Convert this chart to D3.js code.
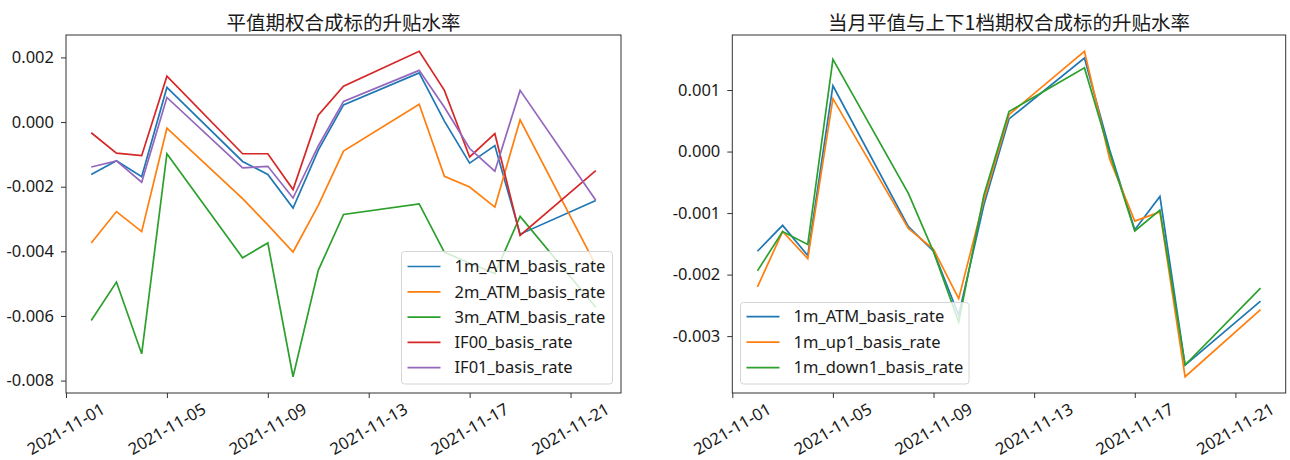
<!DOCTYPE html>
<html>
<head>
<meta charset="utf-8">
<script src="https://cdn.jsdelivr.net/npm/d3@7"></script>
<style>
  html, body { margin: 0; padding: 0; background: #fff; }
  svg { display: block; }
  text { font-family: "Noto Sans", "Noto Sans CJK SC", sans-serif; fill: #1a1a1a; }
</style>
</head>
<body>
<svg id="chart" width="1290" height="460"></svg>
<script>
// ---------------- data ----------------
const dates = ["2021-11-02","2021-11-03","2021-11-04","2021-11-05","2021-11-08","2021-11-09","2021-11-10",
               "2021-11-11","2021-11-12","2021-11-15","2021-11-16","2021-11-17","2021-11-18","2021-11-19","2021-11-22"];

const m1_ATM   = [-0.00162,-0.00120,-0.00169, 0.00107,-0.00122,-0.00162,-0.00266,-0.00087, 0.00053, 0.00152, 0.00003,-0.00127,-0.00073,-0.00347,-0.00243];
const m2_ATM   = [-0.00374,-0.00277,-0.00339,-0.00019,-0.00237,-0.00318,-0.00402,-0.00258,-0.00090, 0.00055,-0.00168,-0.00201,-0.00263, 0.00007,-0.00443];
const m3_ATM   = [-0.00614,-0.00495,-0.00717,-0.00098,-0.00420,-0.00374,-0.00788,-0.00459,-0.00286,-0.00253,-0.00403,-0.00436,-0.00469,-0.00292,-0.00573];
const IF00     = [-0.00033,-0.00096,-0.00104, 0.00142,-0.00098,-0.00098,-0.00209, 0.00021, 0.00111, 0.00219, 0.00098,-0.00108,-0.00036,-0.00351,-0.00150];
const IF01     = [-0.00139,-0.00120,-0.00186, 0.00076,-0.00142,-0.00137,-0.00235,-0.00074, 0.00064, 0.00160, 0.00046,-0.00082,-0.00152, 0.00098,-0.00242];
const m1_up1   = [-0.00220,-0.00130,-0.00174, 0.00086,-0.00125,-0.00159,-0.00239,-0.00079, 0.00060, 0.00163,-0.00012,-0.00113,-0.00098,-0.00366,-0.00257];
const m1_down1 = [-0.00194,-0.00130,-0.00151, 0.00150,-0.00068,-0.00163,-0.00277,-0.00071, 0.00065, 0.00136,-0.00002,-0.00129,-0.00095,-0.00347,-0.00222];

const leftNames  = ["1m_ATM_basis_rate","2m_ATM_basis_rate","3m_ATM_basis_rate","IF00_basis_rate","IF01_basis_rate"];
const rightNames = ["1m_ATM_basis_rate","1m_up1_basis_rate","1m_down1_basis_rate"];
const colors = ["#1f77b4","#ff7f0e","#2ca02c","#d62728","#9467bd"];

const xTickLabels = ["2021-11-01","2021-11-05","2021-11-09","2021-11-13","2021-11-17","2021-11-21"];
const xDomainLabels = ["2021-11-01","2021-11-23"];
const leftYTicks  = [-0.008,-0.006,-0.004,-0.002,0.000,0.002];
const rightYTicks = [-0.003,-0.002,-0.001,0.000,0.001];

const leftTitle  = "平值期权合成标的升贴水率";
const rightTitle = "当月平值与上下1档期权合成标的升贴水率";

// ---------------- drawing ----------------
const parse = d3.timeParse("%Y-%m-%d");
const svg = d3.select("#chart");
const FS = 16.5;

function panel(box, seriesList, names, yTicks, title, legendBox) {
  const g = svg.append("g");
  const x = d3.scaleTime().domain(xDomainLabels.map(parse)).range([box.x0, box.x1]);
  const all = seriesList.flat();
  const mn = d3.min(all), mx = d3.max(all), pad = (mx - mn) * 0.05;
  const y = d3.scaleLinear().domain([mn - pad, mx + pad]).range([box.y1, box.y0]);

  // lines
  const line = d3.line().x((d, i) => x(parse(dates[i]))).y(d => y(d));
  seriesList.forEach((s, k) => {
    g.append("path").datum(s).attr("d", line)
      .attr("fill", "none").attr("stroke", colors[k]).attr("stroke-width", 1.7)
      .attr("stroke-linejoin", "miter");
  });

  // x axis (ticks via d3 axis, labels drawn separately rotated)
  const xAxis = d3.axisBottom(x).tickValues(xTickLabels.map(parse)).tickFormat("")
    .tickSize(5).tickSizeOuter(0);
  const gx = g.append("g").attr("transform", `translate(0,${box.y1})`).call(xAxis);
  gx.select(".domain").remove();
  gx.selectAll(".tick line").attr("stroke", "#333").attr("stroke-width", 1);
  gx.selectAll(".tick text").remove();
  g.append("g").selectAll("text").data(xTickLabels).join("text")
    .attr("transform", d => `translate(${x(parse(d))},${box.y1 + 36}) rotate(-30)`)
    .attr("x", 0).attr("y", 0).attr("dy", "0.35em")
    .attr("text-anchor", "middle")
    .style("font-size", FS + "px").style("font-family", '"Noto Sans", sans-serif')
    .text(d => d);

  const yAxis = d3.axisLeft(y).tickValues(yTicks).tickFormat(d => d3.format(".3f")(d).replace("−", "-"))
    .tickSize(5).tickPadding(7).tickSizeOuter(0);
  const gy = g.append("g").attr("transform", `translate(${box.x0},0)`).call(yAxis);
  gy.select(".domain").remove();
  gy.selectAll(".tick line").attr("stroke", "#333").attr("stroke-width", 1);
  gy.selectAll(".tick text")
    .style("font-size", FS + "px").style("font-family", '"Noto Sans", sans-serif').attr("fill", "#1a1a1a");

  // spines
  g.append("rect").attr("x", box.x0).attr("y", box.y0)
    .attr("width", box.x1 - box.x0).attr("height", box.y1 - box.y0)
    .attr("fill", "none").attr("stroke", "#333").attr("stroke-width", 1);

  // title
  g.append("text")
    .attr("x", (box.x0 + box.x1) / 2).attr("y", 29.5)
    .attr("text-anchor", "middle").style("font-size", "19.5px")
    .style("font-family", '"Noto Sans CJK SC", sans-serif')
    .text(title);

  // legend
  const lg = g.append("g");
  lg.append("rect").attr("x", legendBox.x).attr("y", legendBox.y)
    .attr("width", legendBox.w).attr("height", legendBox.h)
    .attr("rx", 3).attr("ry", 3)
    .attr("fill", "#fff").attr("fill-opacity", 0.8)
    .attr("stroke", "#d6d6d6").attr("stroke-width", 1);
  names.forEach((n, k) => {
    const yy = legendBox.y + legendBox.first + k * legendBox.step;
    lg.append("line").attr("x1", legendBox.x + 6).attr("x2", legendBox.x + 39)
      .attr("y1", yy).attr("y2", yy).attr("stroke", colors[k]).attr("stroke-width", 1.7);
    lg.append("text").attr("x", legendBox.x + 53).attr("y", yy).attr("dy", "0.35em")
      .style("font-size", FS + "px").style("font-family", '"Noto Sans", sans-serif').text(n);
  });
}

panel({x0: 66, x1: 621, y0: 35, y1: 393},
      [m1_ATM, m2_ATM, m3_ATM, IF00, IF01], leftNames, leftYTicks, leftTitle,
      {x: 401.5, y: 251.5, w: 211, h: 132.5, first: 15, step: 25.3});

panel({x0: 732.3, x1: 1285.7, y0: 35, y1: 393},
      [m1_ATM, m1_up1, m1_down1], rightNames, rightYTicks, rightTitle,
      {x: 740.5, y: 302.5, w: 228.5, h: 81.5, first: 14.2, step: 25.5});
</script>
</body>
</html>
